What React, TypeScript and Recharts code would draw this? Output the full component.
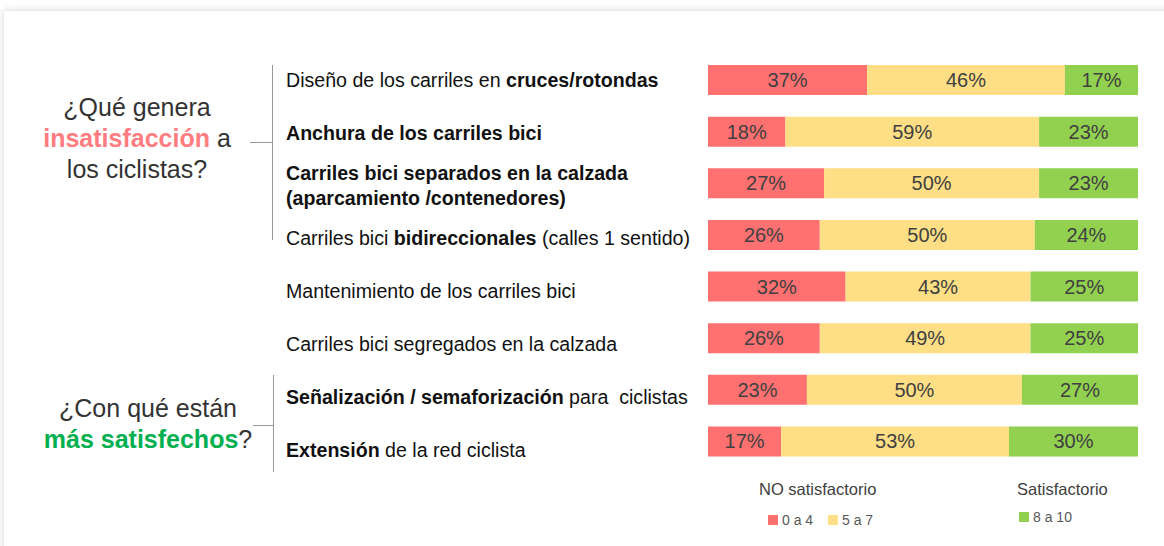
import React from 'react';
import { BarChart, Bar, XAxis, YAxis, LabelList } from 'recharts';

// ** marks bold parts, \n breaks a line
const categories = [
  'Diseño de los carriles en **cruces/rotondas**',
  '**Anchura de los carriles bici**',
  '**Carriles bici separados en la calzada**\n**(aparcamiento /contenedores)**',
  'Carriles bici **bidireccionales** (calles 1 sentido)',
  'Mantenimiento de los carriles bici',
  'Carriles bici segregados en la calzada',
  '**Señalización / semaforización** para  ciclistas',
  '**Extensión** de la red ciclista',
];
const low = [37, 18, 27, 26, 32, 26, 23, 17];
const mid = [46, 59, 50, 50, 43, 49, 50, 53];
const high = [17, 23, 23, 24, 25, 25, 27, 30];
const seriesNames = ['0 a 4', '5 a 7', '8 a 10'];

const COLORS = ['#FF7171', '#FFDF85', '#92D050'];
const FONT = '"Liberation Sans", Arial, sans-serif';

const data = categories.map((c, i) => ({ name: c, low: low[i], mid: mid[i], high: high[i] }));

function CategoryTick(props: any) {
  const { y, payload, index } = props;
  const lines: string[] = String(payload.value).split('\n');
  const lineH = 25;
  const startY = y - ((lines.length - 1) * lineH) / 2 + 7 + index * 1.2;
  return (
    <text x={286} y={startY} fill="#111" fontSize={19.6} fontFamily={FONT} textAnchor="start" style={{ whiteSpace: 'pre' }}>
      {lines.map((line, li) => (
        <tspan key={li} x={286} dy={li === 0 ? 0 : lineH}>
          {line.split('**').map((part, pi) => (
            <tspan key={pi} fontWeight={pi % 2 === 1 ? 'bold' : 'normal'}>
              {part}
            </tspan>
          ))}
        </tspan>
      ))}
    </text>
  );
}

const pct = (v: any) => `${v}%`;

export default function App() {
  return (
    <div style={{ position: 'absolute', left: 0, top: 0, width: 1164, height: 546, background: '#fff', overflow: 'hidden', fontFamily: FONT }}>
      <div style={{ position: 'absolute', left: 4, top: 11, width: 1200, height: 600, boxShadow: '0 0 8px rgba(0,0,0,0.18)', background: '#fff' }} />
      <div style={{ position: 'absolute', left: 0, top: 0 }}>
        <BarChart width={1164} height={546} data={data} layout="vertical" margin={{ top: 54, right: 26, bottom: 79, left: 0 }} barSize={30}>
          <XAxis type="number" domain={[0, 100]} hide />
          <YAxis type="category" dataKey="name" width={708} axisLine={false} tickLine={false} tick={<CategoryTick />} interval={0} />
          <Bar dataKey="low" stackId="a" fill={COLORS[0]} name={seriesNames[0]} isAnimationActive={false}>
            <LabelList dataKey="low" position="center" formatter={pct} fill="#404040" fontSize={20} fontFamily={FONT} />
          </Bar>
          <Bar dataKey="mid" stackId="a" fill={COLORS[1]} name={seriesNames[1]} isAnimationActive={false}>
            <LabelList dataKey="mid" position="center" formatter={pct} fill="#404040" fontSize={20} fontFamily={FONT} />
          </Bar>
          <Bar dataKey="high" stackId="a" fill={COLORS[2]} name={seriesNames[2]} isAnimationActive={false}>
            <LabelList dataKey="high" position="center" formatter={pct} fill="#404040" fontSize={20} fontFamily={FONT} />
          </Bar>
        </BarChart>
      </div>

      {/* group brackets */}
      <div style={{ position: 'absolute', left: 272, top: 65, width: 1, height: 175, background: '#999' }} />
      <div style={{ position: 'absolute', left: 250, top: 142, width: 22, height: 1, background: '#999' }} />
      <div style={{ position: 'absolute', left: 273, top: 375, width: 1, height: 97, background: '#999' }} />
      <div style={{ position: 'absolute', left: 253, top: 425, width: 20, height: 1, background: '#999' }} />

      {/* group questions */}
      <div style={{ position: 'absolute', left: 10, top: 92, width: 254, textAlign: 'center', fontSize: 25, lineHeight: '31px', color: '#333' }}>
        ¿Qué genera<br />
        <span style={{ color: '#FF7C80', fontWeight: 'bold' }}>insatisfacción</span> a<br />
        los ciclistas?
      </div>
      <div style={{ position: 'absolute', left: 21, top: 393, width: 254, textAlign: 'center', fontSize: 25, lineHeight: '31px', color: '#333' }}>
        ¿Con qué están<br />
        <span style={{ color: '#00B050', fontWeight: 'bold' }}>más satisfechos</span>?
      </div>

      {/* legend */}
      <div style={{ position: 'absolute', left: 759, top: 480, fontSize: 16.5, color: '#404040' }}>NO satisfactorio</div>
      <div style={{ position: 'absolute', left: 1017, top: 480, fontSize: 16.5, color: '#404040' }}>Satisfactorio</div>
      {[
        { x: 768, y: 512, c: COLORS[0], t: seriesNames[0] },
        { x: 828, y: 512, c: COLORS[1], t: seriesNames[1] },
        { x: 1019, y: 509, c: COLORS[2], t: seriesNames[2] },
      ].map((l) => (
        <div key={l.t} style={{ position: 'absolute', left: l.x, top: l.y, display: 'flex', alignItems: 'center', fontSize: 14, color: '#595959' }}>
          <span style={{ width: 10, height: 10, background: l.c, marginRight: 4, display: 'inline-block' }} />
          {l.t}
        </div>
      ))}
    </div>
  );
}
